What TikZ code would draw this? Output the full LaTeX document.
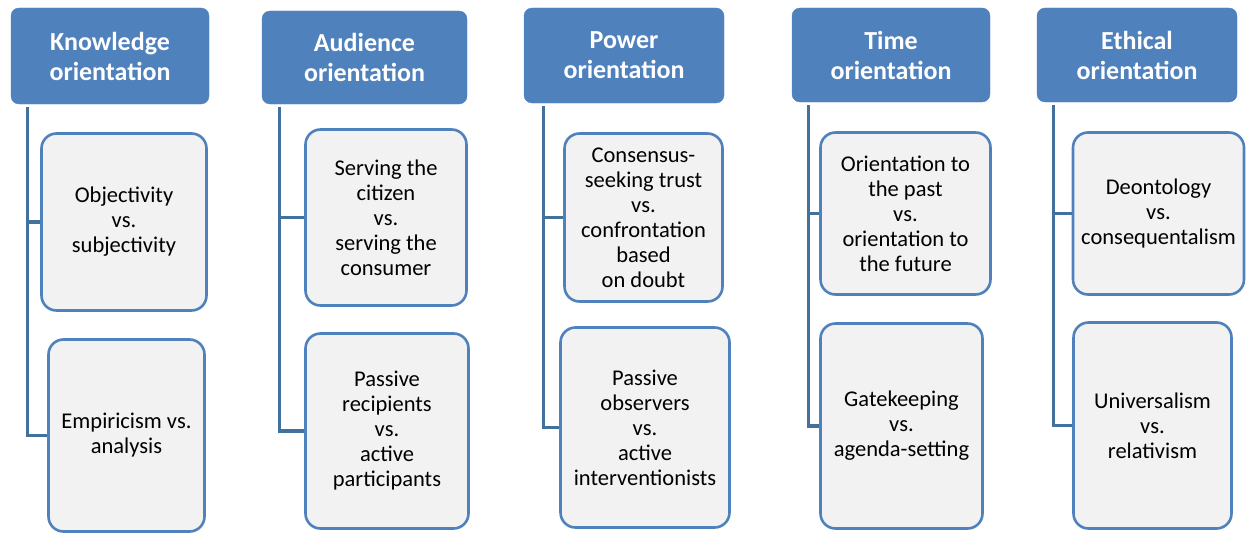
\documentclass[tikz,border=0pt]{standalone}
\usepackage{fontspec}
\setmainfont{Carlito}
\usepackage{xcolor}
\usetikzlibrary{positioning,calc}

\definecolor{hdrblue}{HTML}{4F81BD}
\definecolor{trunkblue}{HTML}{41719C}
\definecolor{itemfill}{HTML}{F2F2F2}

\tikzset{
    hdr/.style={draw=hdrblue, fill=hdrblue, rounded corners=8pt, text=white,
        align=center, font=\fontsize{26}{30}\selectfont\bfseries, inner sep=0pt},
    item/.style={draw=hdrblue, fill=itemfill, line width=2.6pt, rounded corners=15pt,
        align=center, font=\fontsize{22.5}{25}\selectfont, inner sep=0pt},
    trunk/.style={draw=trunkblue, line width=3.2pt}
}

\begin{document}
\begin{tikzpicture}[x=1pt,y=-1pt]
    \useasboundingbox (0,0) rectangle (1247,535);

    % Headers
    \node[hdr, minimum width=198pt, minimum height=96pt] (know) at (110,56) {Knowledge\\orientation};
    \node[hdr, minimum width=205pt, minimum height=93pt] (aud) at (364.5,57.5) {Audience\\orientation};
    \node[hdr, minimum width=200pt, minimum height=95pt] (pow) at (624,55.5) {Power\\orientation};
    \node[hdr, minimum width=198pt, minimum height=94pt] (time) at (891,55) {Time\\orientation};
    \node[hdr, minimum width=200pt, minimum height=94pt] (eth) at (1137,55) {Ethical\\orientation};

    % Items
    \node[item, minimum width=165pt, minimum height=177pt] (know1) at (124,222) {Objectivity\\vs.\\subjectivity};
    \node[item, minimum width=156pt, minimum height=192pt] (know2) at (126.5,435.5) {Empiricism vs.\\analysis};
    \node[item, minimum width=161pt, minimum height=176pt] (aud1) at (386,217.5) {Serving the\\citizen\\vs.\\serving the\\consumer};
    \node[item, minimum width=163pt, minimum height=195pt] (aud2) at (387,431) {Passive\\recipients\\vs.\\active\\participants};
    \node[item, minimum width=158pt, minimum height=168pt] (pow1) at (643.5,217.5) {Consensus-\\seeking trust\\vs.\\confrontation\\based\\on doubt};
    \node[item, minimum width=169pt, minimum height=200pt] (pow2) at (645,427.5) {Passive\\observers\\vs.\\active\\interventionists};
    \node[item, minimum width=170pt, minimum height=162pt] (time1) at (905.5,213.5) {Orientation to\\the past\\vs.\\orientation to\\the future};
    \node[item, minimum width=162pt, minimum height=205pt] (time2) at (901.5,426) {Gatekeeping\\vs.\\agenda-setting};
    \node[item, minimum width=171pt, minimum height=162pt] (eth1) at (1158.5,213.5) {Deontology\\vs.\\consequentalism};
    \node[item, minimum width=158pt, minimum height=206pt] (eth2) at (1152.5,425.5) {Universalism\\vs.\\relativism};

    % Trunks
    \foreach \h/\off in {know/17,aud/18,pow/20,time/17,eth/17} {
        \coordinate (\h top) at ([xshift=\off pt,yshift=-3pt]\h.south west);
        \draw[trunk] (\h top) |- (\h 2.west);
        \draw[trunk] (\h top) |- (\h 1.west);
    }
\end{tikzpicture}
\end{document}
